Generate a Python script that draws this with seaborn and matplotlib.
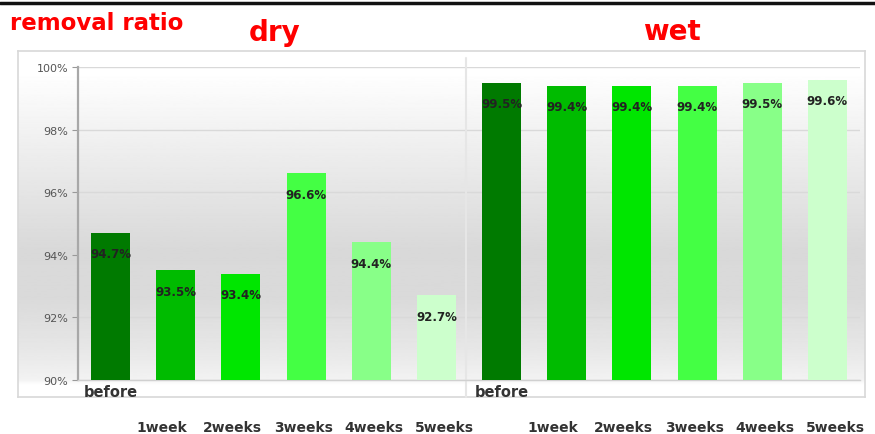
import numpy as np
import pandas as pd
import matplotlib
matplotlib.use("Agg")
import matplotlib.pyplot as plt
import matplotlib.transforms as mtransforms
from matplotlib.lines import Line2D
import seaborn as sns

# ---------------- data ----------------
groups = ["dry", "wet"]
periods = ["before", "1week", "2weeks", "3weeks", "4weeks", "5weeks"]
dry_ratio = [94.7, 93.5, 93.4, 96.6, 94.4, 92.7]
wet_ratio = [99.5, 99.4, 99.4, 99.4, 99.5, 99.6]
y_ticks = [90, 92, 94, 96, 98, 100]
period_colors = ["#007a00", "#00bb00", "#00e600", "#44ff44", "#88ff88", "#ccffcc"]

df = pd.DataFrame({
    "group": np.repeat(groups, len(periods)),
    "period": periods * len(groups),
    "ratio": dry_ratio + wet_ratio,
})
df["key"] = df["group"] + " " + df["period"]

sns.set_style("white")
plt.rcParams["font.family"] = ["DejaVu Sans"]

W, H = 875, 435
fig = plt.figure(figsize=(W / 100, H / 100), dpi=100)

# background frame with vertical grey gradient
bg = fig.add_axes([18 / W, 1 - 398 / H, 847 / W, 346 / H])
py = np.linspace(52, 398, 400)
shade = np.interp(py, [52, 72, 130, 190, 250, 300, 350, 381, 386, 398],
                  [1.0, 1.0, 0.95, 0.9, 0.85, 0.855, 0.905, 0.95, 1.0, 1.0])
bg.imshow(shade[:, None], cmap="gray", vmin=0, vmax=1, aspect="auto",
          extent=[0, 1, 0, 1], origin="upper")
bg.set_xlim(0, 1)
bg.set_ylim(0, 1)
bg.set_xticks([])
bg.set_yticks([])
for s in bg.spines.values():
    s.set_color("#d8d8d8")
    s.set_linewidth(1.2)

# main plot axes
ax = fig.add_axes([78 / W, 1 - 381 / H, 782 / W, 313 / H])
ax.set_facecolor("none")
palette = dict(zip(periods, period_colors))
sns.barplot(data=df, x="key", y="ratio", hue="period", palette=palette,
            dodge=False, width=0.6, legend=False, saturation=1, linewidth=0,
            ax=ax, zorder=3)

ax.set_ylim(90, 100)
ax.set_xlim(-0.5, len(df) - 0.5)
ax.set_yticks(y_ticks)
ax.set_yticklabels([f"{t}%" for t in y_ticks], fontsize=8, color="#555555")
ax.yaxis.grid(True, color="#d9d9d9", linewidth=1, zorder=0)
ax.tick_params(axis="y", length=4, color="#999999", left=True, pad=3)
ax.set_xlabel("")
ax.set_ylabel("")
for s in ["top", "right"]:
    ax.spines[s].set_visible(False)
ax.spines["left"].set_color("#a8a8a8")
ax.spines["left"].set_linewidth(1.6)
ax.spines["bottom"].set_color("#d0d0d0")
ax.spines["bottom"].set_linewidth(1)

# separator between dry and wet
ax.axvline(len(periods) - 0.55, color="#e6e6e6", linewidth=1.5, zorder=1,
           ymin=-0.055, ymax=1.03, clip_on=False)

# x labels: "before" close to axis, the weeks lower and a little spread out
ax.set_xticks(range(len(df)))
ax.set_xticklabels(df["period"], fontsize=10, fontweight="bold", color="#333333")
ax.tick_params(axis="x", length=0, pad=3)
for lab, p in zip(ax.get_xticklabels(), df["period"]):
    if p == "before":
        lab.set_fontsize(10.5)
    else:
        k = periods.index(p)
        dx = (k - 3) * 0.055 - 0.03
        lab.set_transform(lab.get_transform() +
                          mtransforms.ScaledTranslation(dx, -0.36, fig.dpi_scale_trans))

# value labels inside bars
for i, v in enumerate(df["ratio"]):
    ax.annotate(f"{v:.1f}%", (i, v), xytext=(0, -15), textcoords="offset points",
                ha="center", va="center", fontsize=8.5, fontweight="bold",
                color="#222222", zorder=5)

# titles
fig.text(10 / W, 1 - 23 / H, "removal ratio", color="#ff0000", fontsize=16.5,
         fontweight="bold", ha="left", va="center")
fig.text(275 / W, 1 - 33 / H, "dry", color="#ff0000", fontsize=20,
         fontweight="bold", ha="center", va="center")
fig.text(672 / W, 1 - 32 / H, "wet", color="#ff0000", fontsize=20,
         fontweight="bold", ha="center", va="center")

# black rule at the top
fig.add_artist(Line2D([0, 1], [1 - 4 / H, 1 - 4 / H], transform=fig.transFigure,
                      color="#111111", linewidth=2.5))

fig.savefig("out.png", dpi=100)
